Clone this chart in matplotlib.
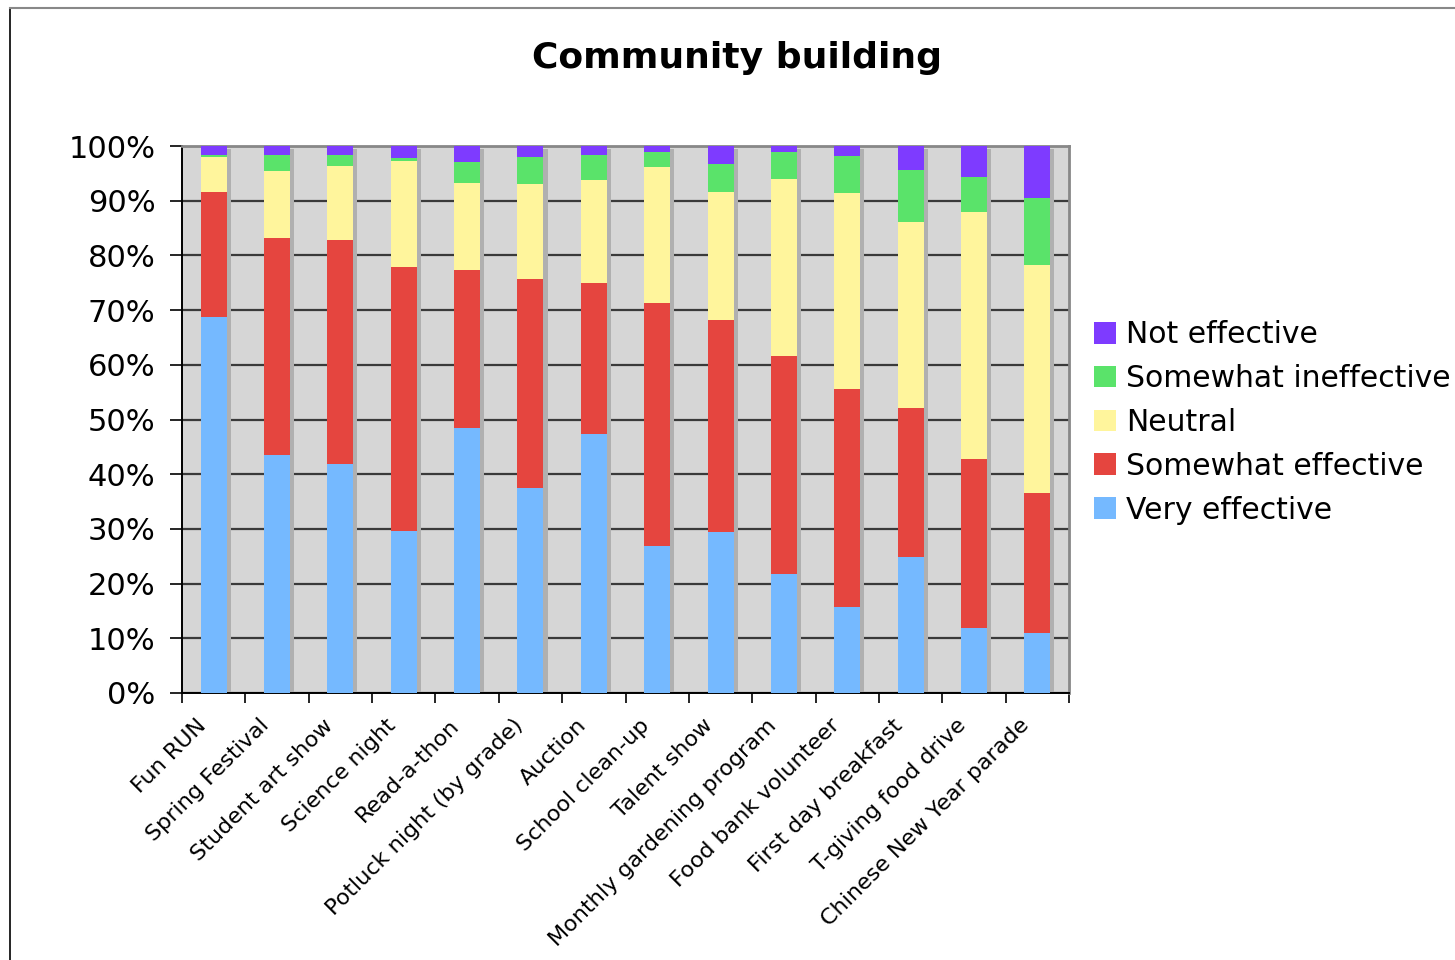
import matplotlib
matplotlib.use("Agg")
import matplotlib.pyplot as plt
import matplotlib.transforms as mtransforms
from matplotlib.patches import Patch
from matplotlib.lines import Line2D
import numpy as np

# events (x categories)
events = ["Fun RUN", "Spring Festival", "Student art show", "Science night",
          "Read-a-thon", "Potluck night (by grade)", "Auction", "School clean-up",
          "Talent show", "Monthly gardening program", "Food bank volunteer",
          "First day breakfast", "T-giving food drive", "Chinese New Year parade"]

# percent of responses per rating
very_effective       = [68.7, 43.5, 41.9, 29.6, 48.4, 37.5, 47.3, 26.9, 29.4, 21.8, 15.7, 24.9, 11.9, 11.0]
somewhat_effective   = [22.9, 39.7, 40.9, 48.3, 28.9, 38.2, 27.7, 44.4, 38.8, 39.8, 39.9, 27.2, 30.9, 25.6]
neutral              = [6.4, 12.2, 13.5, 19.4, 15.9, 17.4, 18.8, 24.9, 23.4, 32.4, 35.8, 34.0, 45.1, 41.6]
somewhat_ineffective = [0.4, 3.0, 2.1, 0.5, 3.9, 4.9, 4.6, 2.7, 5.1, 4.9, 6.8, 9.5, 6.4, 12.3]
not_effective        = [1.6, 1.6, 1.6, 2.2, 2.9, 2.0, 1.6, 1.1, 3.3, 1.1, 1.8, 4.4, 5.7, 9.5]

series_names = ["Very effective", "Somewhat effective", "Neutral",
                "Somewhat ineffective", "Not effective"]
series = [very_effective, somewhat_effective, neutral,
          somewhat_ineffective, not_effective]
colors = ["#75b9ff", "#e5453f", "#fff59c", "#5ae36a", "#7e3bff"]

plt.rcParams['font.family'] = ['DejaVu Sans']

fig = plt.figure(figsize=(14.55, 9.6), dpi=100)
ax = fig.add_axes([182/1455, 1-693/960, (1069-182)/1455, (693-146)/960])
ax.set_facecolor("#d6d6d6")

x = np.arange(len(events))
width = 0.41

# shadow behind each bar
totals = np.sum(series, axis=0)
ax.bar(x + 0.065, totals - 0.55, width, color="#b0b0b0", zorder=2)

bottom = np.zeros(len(events))
for name, vals, col in zip(series_names, series, colors):
    ax.bar(x, vals, width, bottom=bottom, color=col, label=name, zorder=3)
    bottom += np.array(vals)

# axes styling
ax.set_xlim(-0.5, len(events) - 0.5)
ax.set_ylim(0, 100)
ax.set_yticks(np.arange(0, 101, 10))
ax.set_yticklabels(["%d%%" % v for v in range(0, 101, 10)], fontsize=22)
ax.yaxis.grid(True, color="#3a3a3a", linewidth=1.6, zorder=1)
ax.set_axisbelow(True)
ax.tick_params(axis='y', direction='out', length=9, width=1.2, pad=10)

# ticks at category boundaries, labels at centres
ax.set_xticks(np.arange(-0.5, len(events), 1.0))
ax.set_xticklabels([])
ax.tick_params(axis='x', which='major', direction='out', length=7, width=1.2)
ax.set_xticks(x, minor=True)
ax.set_xticklabels(events, minor=True, rotation=45, ha='right',
                   rotation_mode='anchor', fontsize=16)
ax.tick_params(axis='x', which='minor', length=0, pad=16)

# nudge labels left so they end near the bar centre
shift = mtransforms.ScaledTranslation(-18/100, 0, fig.dpi_scale_trans)
for lbl in ax.get_xticklabels(minor=True):
    lbl.set_transform(lbl.get_transform() + shift)

ax.spines['left'].set_color('black')
ax.spines['bottom'].set_color('black')
ax.spines['left'].set_linewidth(1.4)
ax.spines['bottom'].set_linewidth(1.4)
ax.spines['top'].set_color('#888888')
ax.spines['right'].set_color('#888888')
ax.spines['top'].set_linewidth(2)
ax.spines['right'].set_linewidth(2)

fig.text(737/1455, 1-58/960, "Community building", ha='center', va='center',
         fontsize=26, fontweight='bold')

# legend, top entry = top of stack
handles = [Patch(facecolor=c, edgecolor='none') for c in colors][::-1]
fig.legend(handles, series_names[::-1], loc='upper left',
           bbox_to_anchor=(1094/1455, 1-320/960), frameon=False,
           fontsize=21.5, handlelength=0.75, handleheight=0.75,
           handletextpad=0.32, labelspacing=0.5, borderpad=0, borderaxespad=0)

# chart frame lines
fig.add_artist(Line2D([10/1455, 10/1455], [0, 1-8/960], color='black', linewidth=1.2))
fig.add_artist(Line2D([10/1455, 1], [1-8/960, 1-8/960], color='#888888', linewidth=1.5))

plt.savefig("out.png", dpi=100)
